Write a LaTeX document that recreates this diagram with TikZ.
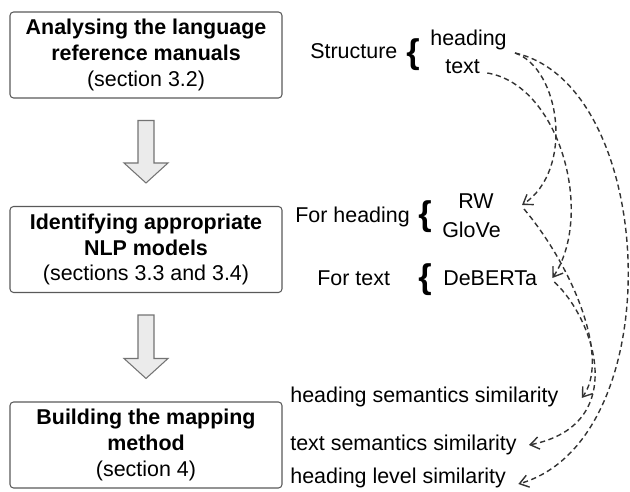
\documentclass[tikz,border=0pt]{standalone}
\usepackage{fontspec}
\setmainfont{Liberation Sans}
\usetikzlibrary{arrows.meta,calc,positioning}

\tikzset{
  stagebox/.style={draw=black!65, line width=0.6pt, rounded corners=2pt, minimum width=5.44cm, minimum height=1.72cm, align=center, inner sep=0pt, font=\fontsize{12.2}{14.7}\selectfont},
  bigarrow/.style={draw=black!55, fill=black!8, line width=0.6pt},
  lbl/.style={inner sep=0pt, font=\fontsize{12.2}{14.7}\selectfont, text height=1.6ex, text depth=.4ex},
  bracelbl/.style={inner sep=0pt, font=\fontsize{19.5}{19.5}\selectfont\bfseries},
  link/.style={dash pattern=on 3pt off 2pt, line width=0.8pt, draw=black!80, -{Straight Barb[length=5pt,width=7pt]}},
}

\begin{document}
\begin{tikzpicture}[x=0.02cm,y=-0.02cm]
	\useasboundingbox (0,0) rectangle (630,492);
	% the three stages
	\node[stagebox] (analysebox) at (146,55) {\textbf{Analysing the language}\\\textbf{reference manuals}\\(section 3.2)};
	\node[stagebox] (identifybox) at (146,249.5) {\textbf{Identifying appropriate}\\\textbf{NLP models}\\(sections 3.3 and 3.4)};
	\node[stagebox] (buildbox) at (146,445) {\textbf{Building the mapping}\\\textbf{method}\\(section 4)};
	\foreach \a/\b in {analysebox/identifybox,identifybox/buildbox}{
		\draw[bigarrow] ($(\a.south)+(-8,22)$) -- ($(\a.south)+(8,22)$) -- ($(\b.north)+(8,-43)$) -- ($(\b.north)+(22,-43)$) -- ($(\b.north)+(0,-23)$) -- ($(\b.north)+(-22,-43)$) -- ($(\b.north)+(-8,-43)$) -- cycle;
	}
	% right column
	\node[lbl,anchor=west] (structure) at (310,53) {Structure};
	\node[bracelbl] (sbrace) at (413,55) {\{};
	\node[lbl,anchor=west] (heading) at (430,40) {heading};
	\node[lbl,anchor=west] (txt) at (445,68) {text};
	\node[lbl,anchor=west] (forheading) at (295,217) {For heading};
	\node[bracelbl] (hbrace) at (425,217) {\{};
	\node[lbl] (rw) at (476,203) {RW};
	\node[lbl] (glove) at (471.5,232) {GloVe};
	\node[lbl,anchor=west] (fortext) at (317,280) {For text};
	\node[bracelbl] (tbrace) at (425,280) {\{};
	\node[lbl,anchor=west] (deberta) at (443,280) {DeBERTa};
	\node[lbl,anchor=west] (headsem) at (290,397) {heading semantics similarity};
	\node[lbl,anchor=west] (textsem) at (290,445) {text semantics similarity};
	\node[lbl,anchor=west] (levelsim) at (290,478) {heading level similarity};
	% dashed links
	\draw[link] ([shift={(8,13)}]heading.east) .. controls (560,68) and (575,170) .. ([shift={(28,2)}]rw.east);
	\draw[link] ([shift={(8,13)}]heading.east) .. controls (658,85) and (672,440) .. ([shift={(12,6)}]levelsim.east);
	\draw[link] ([shift={(7,5)}]txt.east) .. controls (560,85) and (595,215) .. ([shift={(15,-2)}]deberta.east);
	\draw[link] ([shift={(30,6)}]rw.east) .. controls (575,270) and (610,360) .. ([shift={(23,1)}]headsem.east);
	\draw[link] ([shift={(17,2)}]deberta.east) .. controls (595,320) and (630,425) .. ([shift={(12,0)}]textsem.east);
\end{tikzpicture}
\end{document}
